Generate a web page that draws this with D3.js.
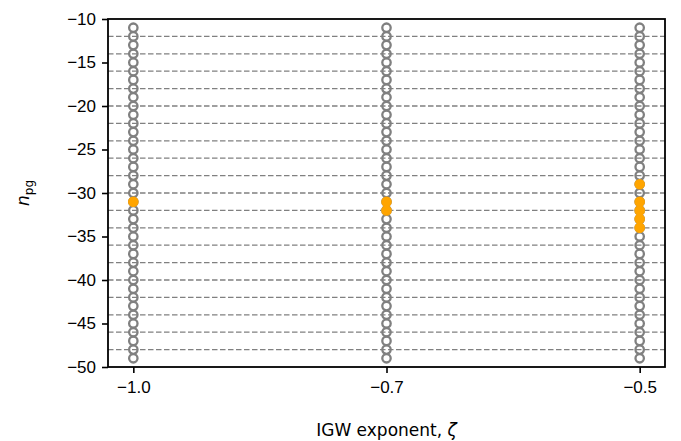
<!DOCTYPE html>
<html>
<head>
<meta charset="utf-8">
<script src="https://cdn.jsdelivr.net/npm/d3@7"></script>
<style>
  body { margin: 0; background: #fff; }
  svg { display: block; font-family: "DejaVu Sans", sans-serif; }
</style>
</head>
<body>
<svg id="chart" width="681" height="441"></svg>
<script>
// IGW exponent categories (x axis) and scanned n_pg values
const zetaLabels = ["\u22121.0", "\u22120.7", "\u22120.5"];
const nValues = d3.range(-49, -10); // -49 .. -11
// n_pg values that satisfy the criterion, per exponent
const hitsByZeta = [
  [-31],
  [-31, -32],
  [-29, -31, -32, -33, -34]
];
const yTicks = [-10, -15, -20, -25, -30, -35, -40, -45, -50];
const gridLevels = d3.range(-48, -11, 2); // dashed reference levels

const W = 681, H = 441;
const m = { left: 108, right: 16, top: 19, bottom: 74 };
const FS = "17px";
const svg = d3.select("#chart");

const x = d3.scaleLinear().domain([-0.1, 2.1]).range([m.left, W - m.right]);
const y = d3.scaleLinear().domain([-50, -10]).range([H - m.bottom, m.top]);

svg.append("defs").append("clipPath").attr("id", "clip")
  .append("rect").attr("x", m.left).attr("y", m.top)
  .attr("width", W - m.left - m.right).attr("height", H - m.top - m.bottom);
const plot = svg.append("g").attr("clip-path", "url(#clip)");

// dashed horizontal levels
plot.selectAll("line.grid").data(gridLevels).join("line")
  .attr("class", "grid")
  .attr("x1", m.left).attr("x2", W - m.right)
  .attr("y1", d => y(d)).attr("y2", d => y(d))
  .attr("stroke", "#808080").attr("stroke-width", 1.3)
  .attr("stroke-dasharray", "5.5,2.5");

// all scanned points as open grey circles
const allPts = [];
zetaLabels.forEach((z, i) => nValues.forEach(n => allPts.push({ i, n })));
plot.selectAll("circle.scan").data(allPts).join("circle")
  .attr("class", "scan")
  .attr("cx", d => x(d.i)).attr("cy", d => y(d.n)).attr("r", 4.2)
  .attr("fill", "none").attr("stroke", "#808080").attr("stroke-width", 2.3);

// selected points filled orange
const hitPts = [];
hitsByZeta.forEach((arr, i) => arr.forEach(n => hitPts.push({ i, n })));
plot.selectAll("circle.hit").data(hitPts).join("circle")
  .attr("class", "hit")
  .attr("cx", d => x(d.i)).attr("cy", d => y(d.n)).attr("r", 4.6)
  .attr("fill", "#ffa500").attr("stroke", "#ffa500").attr("stroke-width", 1.4);

// axes
const xAxis = d3.axisBottom(x).tickValues([0, 1, 2])
  .tickFormat(i => zetaLabels[i]).tickSize(6).tickPadding(7);
const yAxis = d3.axisLeft(y).tickValues(yTicks)
  .tickFormat(d => d3.format("d")(d).replace("-", "\u2212")).tickSize(6).tickPadding(6);

const gx = svg.append("g").attr("transform", `translate(0,${H - m.bottom})`).call(xAxis);
const gy = svg.append("g").attr("transform", `translate(${m.left},0)`).call(yAxis);
[gx, gy].forEach(g => {
  g.select(".domain").remove();
  g.selectAll(".tick line").attr("stroke", "#000").attr("stroke-width", 1.6);
  g.selectAll(".tick text").attr("fill", "#000").style("font-size", FS);
});
gx.selectAll(".tick text").attr("dy", "0.76em");

// frame
svg.append("rect").attr("x", m.left).attr("y", m.top)
  .attr("width", W - m.left - m.right).attr("height", H - m.top - m.bottom)
  .attr("fill", "none").attr("stroke", "#000").attr("stroke-width", 1.8);

// axis labels
const xl = svg.append("text").attr("x", (m.left + W - m.right) / 2).attr("y", 436)
  .attr("text-anchor", "middle").style("font-size", FS);
xl.append("tspan").text("IGW exponent, ");
xl.append("tspan").attr("font-style", "italic").text("\u03b6");

const yl = svg.append("text")
  .attr("transform", `translate(29,${(m.top + H - m.bottom) / 2}) rotate(-90)`)
  .attr("text-anchor", "middle").style("font-size", FS);
yl.append("tspan").attr("font-style", "italic").text("n");
yl.append("tspan").attr("dy", "4").style("font-size", "12px").text("pg");
</script>
</body>
</html>
